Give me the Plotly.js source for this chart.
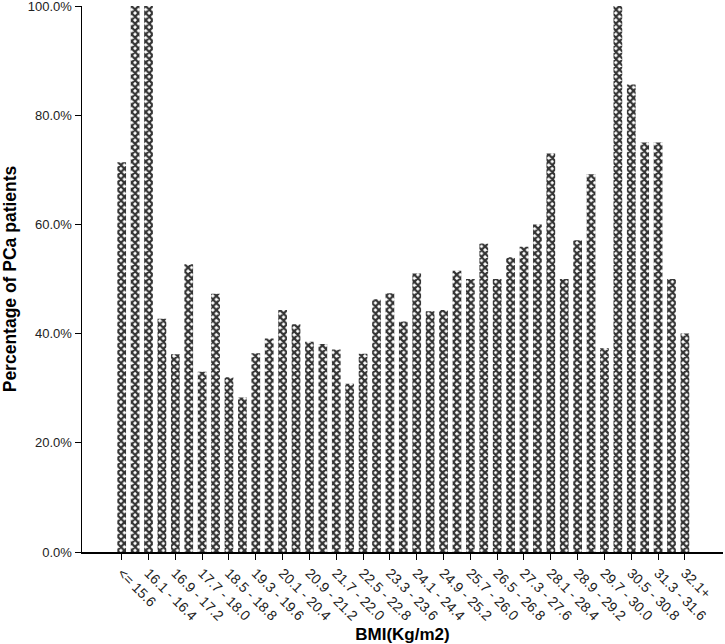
<!DOCTYPE html>
<html>
<head>
<meta charset="utf-8">
<script src="https://cdn.plot.ly/plotly-3.0.1.min.js"></script>
<style>html,body{margin:0;padding:0;background:#fff;}#chart{width:725px;height:644px;}</style>
</head>
<body>
<div id="chart"></div>
<script>
var categories = ["<= 15.6","15.7 - 16.0","16.1 - 16.4","16.5 - 16.8","16.9 - 17.2","17.3 - 17.6","17.7 - 18.0","18.1 - 18.4","18.5 - 18.8","18.9 - 19.2","19.3 - 19.6","19.7 - 20.0","20.1 - 20.4","20.5 - 20.8","20.9 - 21.2","21.3 - 21.6","21.7 - 22.0","22.1 - 22.4","22.5 - 22.8","22.9 - 23.2","23.3 - 23.6","23.7 - 24.0","24.1 - 24.4","24.5 - 24.8","24.9 - 25.2","25.3 - 25.6","25.7 - 26.0","26.1 - 26.4","26.5 - 26.8","26.9 - 27.2","27.3 - 27.6","27.7 - 28.0","28.1 - 28.4","28.5 - 28.8","28.9 - 29.2","29.3 - 29.6","29.7 - 30.0","30.1 - 30.4","30.5 - 30.8","30.9 - 31.2","31.3 - 31.6","31.7 - 32.0","32.1+"];
var percentages = [0.714,1.0,1.0,0.427,0.362,0.527,0.330,0.473,0.320,0.283,0.364,0.391,0.443,0.417,0.385,0.381,0.371,0.308,0.363,0.463,0.474,0.422,0.510,0.441,0.443,0.515,0.500,0.565,0.500,0.540,0.559,0.600,0.730,0.500,0.571,0.692,0.373,1.0,0.856,0.750,0.750,0.500,0.400];
var tickLabels = ["<= 15.6","16.1 - 16.4","16.9 - 17.2","17.7 - 18.0","18.5 - 18.8","19.3 - 19.6","20.1 - 20.4","20.9 - 21.2","21.7 - 22.0","22.5 - 22.8","23.3 - 23.6","24.1 - 24.4","24.9 - 25.2","25.7 - 26.0","26.5 - 26.8","27.3 - 27.6","28.1 - 28.4","28.9 - 29.2","29.7 - 30.0","30.5 - 30.8","31.3 - 31.6","32.1+"];
var yTicks = [0,0.2,0.4,0.6,0.8,1.0];

var trace = {
  type: 'bar',
  x: categories,
  y: percentages,
  marker: {
    color: '#ffffff',
    line: {width: 0},
    pattern: {shape: 'x', fgcolor: '#333333', bgcolor: '#ffffff', size: 5, solidity: 0.7}
  },
  hoverinfo: 'x+y'
};

var font = 'Liberation Sans, Arial, sans-serif';
var layout = {
  width: 725, height: 644,
  margin: {l: 82, r: 2, t: 6, b: 92},
  paper_bgcolor: '#fff', plot_bgcolor: '#fff',
  bargap: 0.35,
  showlegend: false,
  font: {family: font, color: '#000'},
  xaxis: {
    type: 'category',
    range: [-2.96, 44.84],
    tickmode: 'array',
    tickvals: tickLabels,
    ticktext: tickLabels,
    tickangle: 45,
    ticks: 'outside', ticklen: 6, tickwidth: 1, tickcolor: '#000',
    showline: true, linecolor: '#000', linewidth: 1.5,
    showgrid: false, zeroline: false,
    ticklabeloverflow: 'allow',
    tickfont: {family: font, size: 14, color: '#222'},
    title: {text: 'BMI(Kg/m2)', font: {family: font, size: 17, color: '#000', weight: 'bold'}, standoff: 12}
  },
  yaxis: {
    range: [0, 1],
    tickmode: 'array',
    tickvals: yTicks,
    tickformat: '.1%',
    ticks: 'outside', ticklen: 6, tickwidth: 1, tickcolor: '#000',
    showline: true, linecolor: '#000', linewidth: 1.5,
    showgrid: false, zeroline: false,
    ticklabeloverflow: 'allow',
    tickfont: {family: font, size: 13, color: '#222'},
    title: {text: 'Percentage of PCa patients', font: {family: font, size: 17.5, color: '#000', weight: 'bold'}, standoff: 12}
  }
};

Plotly.newPlot('chart', [trace], layout, {displayModeBar: false, staticPlot: true});
</script>
</body>
</html>
